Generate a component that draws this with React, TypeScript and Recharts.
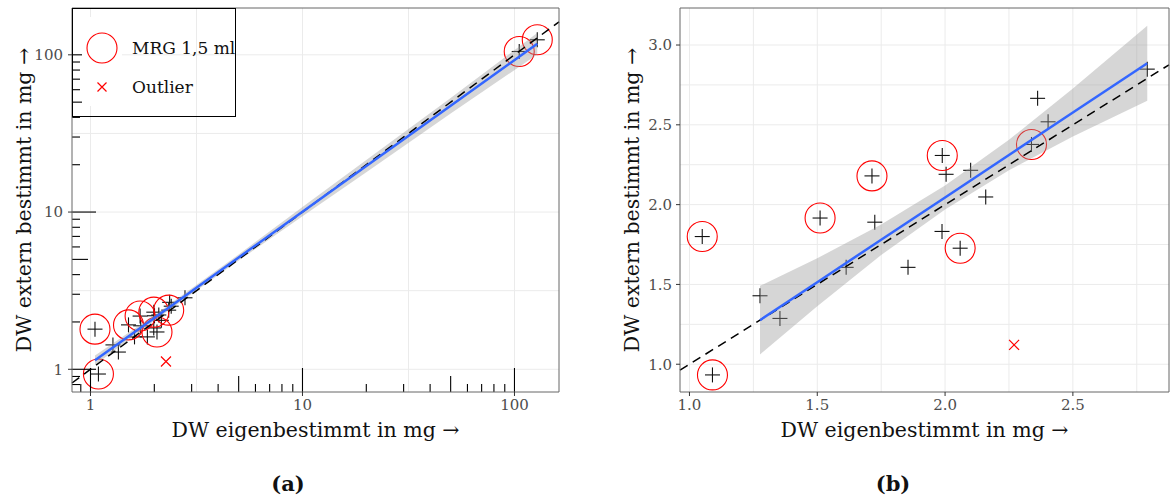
import React from "react";
import {
  ComposedChart,
  Scatter,
  Line,
  Area,
  XAxis,
  YAxis,
  ReferenceLine,
  ReferenceArea,
  Legend,
  Label,
} from "recharts";

// DW eigenbestimmt (x) / DW extern bestimmt (y), mg
const ownDW = [1.05, 1.09, 1.276, 1.354, 1.511, 1.613, 1.714, 1.725, 1.855, 1.989, 2.004, 1.988, 2.059, 2.1, 2.159, 2.338, 2.362, 2.403, 2.791];
const extDW = [1.8, 0.933, 1.429, 1.287, 1.916, 1.607, 2.18, 1.89, 1.607, 2.308, 2.19, 1.832, 1.727, 2.215, 2.048, 2.377, 2.666, 2.519, 2.849];
const isMRG = [1, 1, 0, 0, 1, 0, 1, 0, 0, 1, 0, 0, 1, 0, 0, 1, 0, 0, 0];

// only in panel (a)
const largeOwnDW = [105.3, 128.1];
const largeExtDW = [105.0, 124.6];

const outlierOwn = [2.27];
const outlierExt = [1.121];

// panel (a) fit on log scale
const fitOwnA = [1.05, 2, 5, 10, 20, 50, 128.1];
const fitExtA = [1.14, 2.12, 5.14, 10.05, 19.6, 47.4, 117.6];
const bandLowA = [1.064, 2.033, 4.91, 9.4, 17.9, 42.3, 100.5];
const bandHighA = [1.222, 2.209, 5.38, 10.75, 21.45, 53.2, 137.5];

// panel (b) fit
const fitOwnB = [1.276, 1.5, 1.75, 2.0, 2.25, 2.5, 2.791];
const fitExtB = [1.276, 1.514, 1.78, 2.045, 2.311, 2.577, 2.886];
const bandLowB = [1.061, 1.364, 1.685, 1.97, 2.216, 2.427, 2.651];
const bandHighB = [1.491, 1.664, 1.875, 2.12, 2.406, 2.727, 3.121];

const domXA = [0.818, 162.2];
const domYA = [0.717, 198.5];
const domXB = [0.963, 2.876];
const domYB = [0.826, 3.232];

const ticksA = [1, 10, 100];
const minorA = [3.162, 31.62];
const ticksXB = [1, 1.5, 2, 2.5];
const ticksYB = [1, 1.5, 2, 2.5, 3];
const minorB = [1.25, 1.75, 2.25, 2.75];
const logTicks = [0.8, 0.9, 1, 2, 3, 4, 5, 6, 7, 8, 9, 10, 20, 30, 40, 50, 60, 70, 80, 90, 100];

const FONT = '"DejaVu Serif", serif';

const pointsB = ownDW.map((x, i) => ({ x, y: extDW[i] }));
const mrgB = pointsB.filter((_, i) => isMRG[i] === 1);
const largePts = largeOwnDW.map((x, i) => ({ x, y: largeExtDW[i] }));
const pointsA = [...pointsB, ...largePts];
const mrgA = [...mrgB, ...largePts];
const outliers = outlierOwn.map((x, i) => ({ x, y: outlierExt[i] }));

const fitDataA = fitOwnA.map((x, i) => ({ x, fit: fitExtA[i], band: [bandLowA[i], bandHighA[i]] }));
const fitDataB = fitOwnB.map((x, i) => ({ x, fit: fitExtB[i], band: [bandLowB[i], bandHighB[i]] }));

const Plus = (p: any) => (
  <g>
    <line x1={p.cx - 7.5} x2={p.cx + 7.5} y1={p.cy} y2={p.cy} stroke="#111" strokeWidth={1.1} />
    <line x1={p.cx} x2={p.cx} y1={p.cy - 7.5} y2={p.cy + 7.5} stroke="#111" strokeWidth={1.1} />
  </g>
);

const Ring = (p: any) => <circle cx={p.cx} cy={p.cy} r={15} fill="none" stroke="#ff0000" strokeWidth={1.1} />;

const Cross = (p: any) => (
  <path
    d={`M${p.cx - 5} ${p.cy - 5}L${p.cx + 5} ${p.cy + 5}M${p.cx + 5} ${p.cy - 5}L${p.cx - 5} ${p.cy + 5}`}
    stroke="#ff0000"
    strokeWidth={1.2}
  />
);

function tickLen(v: number) {
  const m = v / Math.pow(10, Math.floor(Math.log10(v) + 1e-9));
  if (Math.abs(m - 1) < 1e-6) return 24;
  if (Math.abs(m - 5) < 1e-6) return 16;
  return 8;
}

const bottomTick = (v: number) => (p: any) => {
  const yb = Math.max(p.y1, p.y2);
  return <line x1={p.x1} x2={p.x1} y1={yb} y2={yb - tickLen(v)} stroke="#000" strokeWidth={1.1} />;
};

const leftTick = (v: number) => (p: any) => {
  const xl = Math.min(p.x1, p.x2);
  return <line x1={xl} x2={xl + tickLen(v)} y1={p.y1} y2={p.y1} stroke="#000" strokeWidth={1.1} />;
};

const xTitle = (text: string) => (props: any) => {
  const vb = props.viewBox;
  return (
    <text x={vb.x + vb.width / 2} y={vb.y + 38} textAnchor="middle" dominantBaseline="central" fontFamily={FONT} fontSize={20.5} fill="#111">
      {text}
    </text>
  );
};

const yTitle = (text: string, cx: number) => (props: any) => {
  const vb = props.viewBox;
  const cy = vb.y + vb.height / 2;
  return (
    <text x={cx} y={cy} transform={`rotate(-90 ${cx} ${cy})`} textAnchor="middle" dominantBaseline="central" fontFamily={FONT} fontSize={20.5} fill="#111">
      {text}
    </text>
  );
};

const LegendBox = () => (
  <svg width={164} height={109} style={{ display: "block" }}>
    <rect x={10} y={9} width={40} height={89} fill="#fff" />
    <rect x={0.5} y={0.5} width={163} height={108} fill="none" stroke="#000" strokeWidth={1} />
    <circle cx={30} cy={40} r={15} fill="none" stroke="#ff0000" strokeWidth={1.1} />
    <text x={60} y={40} dominantBaseline="central" fontFamily={FONT} fontSize={17} fill="#111">
      MRG 1,5 ml
    </text>
    <path d="M25.5 74.5L34.5 83.5M34.5 74.5L25.5 83.5" stroke="#ff0000" strokeWidth={1.2} />
    <text x={60} y={79} dominantBaseline="central" fontFamily={FONT} fontSize={17} fill="#111">
      Outlier
    </text>
  </svg>
);

const tickStyle = { fill: "#4d4d4d", fontSize: 15, fontFamily: FONT };

function PanelA() {
  return (
    <ComposedChart width={570} height={450} data={fitDataA} margin={{ top: 8, right: 11, bottom: 8, left: 0 }}>
      <XAxis dataKey="x" type="number" scale="log" domain={domXA} allowDataOverflow ticks={ticksA} tick={tickStyle}
        tickSize={4} tickMargin={3} axisLine={false} tickLine={{ stroke: "#333" }} height={50}>
        <Label content={xTitle("DW eigenbestimmt in mg →")} />
      </XAxis>
      <YAxis dataKey="y" type="number" scale="log" domain={domYA} allowDataOverflow ticks={ticksA} tick={tickStyle}
        tickSize={4} tickMargin={5} axisLine={false} tickLine={{ stroke: "#333" }} width={72}>
        <Label content={yTitle("DW extern bestimmt in mg →", 24)} />
      </YAxis>
      {[...ticksA, ...minorA].map((v) => (
        <ReferenceLine key={"gx" + v} x={v} stroke="#ebebeb" strokeWidth={1} zIndex={-200} />
      ))}
      {[...ticksA, ...minorA].map((v) => (
        <ReferenceLine key={"gy" + v} y={v} stroke="#ebebeb" strokeWidth={1} zIndex={-200} />
      ))}
      <Scatter data={pointsA} shape={Plus} isAnimationActive={false} zIndex={100} />
      <Scatter data={mrgA} shape={Ring} isAnimationActive={false} zIndex={100} />
      <Scatter data={outliers} shape={Cross} isAnimationActive={false} zIndex={100} />
      <Area dataKey="band" type="linear" stroke="none" fill="#999999" fillOpacity={0.4} isAnimationActive={false} zIndex={200} />
      <ReferenceLine segment={[{ x: domXA[0], y: domXA[0] }, { x: domXA[1], y: domXA[1] }]} stroke="#000"
        strokeWidth={1.5} strokeDasharray="9 6" zIndex={250} />
      <Line dataKey="fit" type="linear" stroke="#3366ff" strokeWidth={2.5} dot={false} isAnimationActive={false} zIndex={300} />
      {logTicks.map((v) => (
        <ReferenceLine key={"lx" + v} x={v} shape={bottomTick(v)} zIndex={400} />
      ))}
      {logTicks.map((v) => (
        <ReferenceLine key={"ly" + v} y={v} shape={leftTick(v)} zIndex={400} />
      ))}
      <ReferenceArea x1={domXA[0]} x2={domXA[1]} y1={domYA[0]} y2={domYA[1]} fill="none" stroke="#666"
        strokeWidth={1} zIndex={450} />
      <Legend content={LegendBox} layout="vertical" align="center" verticalAlign="middle"
        wrapperStyle={{ left: 72, top: 8, width: 164, height: 109 }} />
    </ComposedChart>
  );
}

function PanelB() {
  return (
    <ComposedChart width={586} height={450} data={fitDataB} margin={{ top: 8, right: 2, bottom: 8, left: 0 }}>
      <XAxis dataKey="x" type="number" domain={domXB} allowDataOverflow ticks={ticksXB} tick={tickStyle}
        tickFormatter={(v: number) => v.toFixed(1)} tickSize={4} tickMargin={3} axisLine={false}
        tickLine={{ stroke: "#333" }} height={50}>
        <Label content={xTitle("DW eigenbestimmt in mg →")} />
      </XAxis>
      <YAxis dataKey="y" type="number" domain={domYB} allowDataOverflow ticks={ticksYB} tick={tickStyle}
        tickFormatter={(v: number) => v.toFixed(1)} tickSize={4} tickMargin={4} axisLine={false}
        tickLine={{ stroke: "#333" }} width={95}>
        <Label content={yTitle("DW extern bestimmt in mg →", 47)} />
      </YAxis>
      {[...ticksXB, ...minorB].map((v) => (
        <ReferenceLine key={"gx" + v} x={v} stroke="#ebebeb" strokeWidth={1} zIndex={-200} />
      ))}
      {[...ticksYB, ...minorB].map((v) => (
        <ReferenceLine key={"gy" + v} y={v} stroke="#ebebeb" strokeWidth={1} zIndex={-200} />
      ))}
      <Scatter data={pointsB} shape={Plus} isAnimationActive={false} zIndex={100} />
      <Scatter data={mrgB} shape={Ring} isAnimationActive={false} zIndex={100} />
      <Scatter data={outliers} shape={Cross} isAnimationActive={false} zIndex={100} />
      <Area dataKey="band" type="linear" stroke="none" fill="#999999" fillOpacity={0.4} isAnimationActive={false} zIndex={200} />
      <ReferenceLine segment={[{ x: domXB[0], y: domXB[0] }, { x: domXB[1], y: domXB[1] }]} stroke="#000"
        strokeWidth={1.5} strokeDasharray="9 6" zIndex={250} />
      <Line dataKey="fit" type="linear" stroke="#3366ff" strokeWidth={2.5} dot={false} isAnimationActive={false} zIndex={300} />
      <ReferenceArea x1={domXB[0]} x2={domXB[1]} y1={domYB[0]} y2={domYB[1]} fill="none" stroke="#666"
        strokeWidth={1} zIndex={450} />
    </ComposedChart>
  );
}

const captionStyle: React.CSSProperties = {
  position: "absolute",
  top: 471,
  fontFamily: FONT,
  fontWeight: "bold",
  fontSize: 21,
  color: "#111",
  textAlign: "center",
  width: 100,
};

export default function App() {
  return (
    <div style={{ position: "absolute", left: 0, top: 0, width: 1171, height: 502, background: "#fff", overflow: "hidden" }}>
      <div style={{ position: "absolute", left: 0, top: 0 }}>
        <PanelA />
      </div>
      <div style={{ position: "absolute", left: 585, top: 0 }}>
        <PanelB />
      </div>
      <div style={{ ...captionStyle, left: 238 }}>(a)</div>
      <div style={{ ...captionStyle, left: 843 }}>(b)</div>
    </div>
  );
}
